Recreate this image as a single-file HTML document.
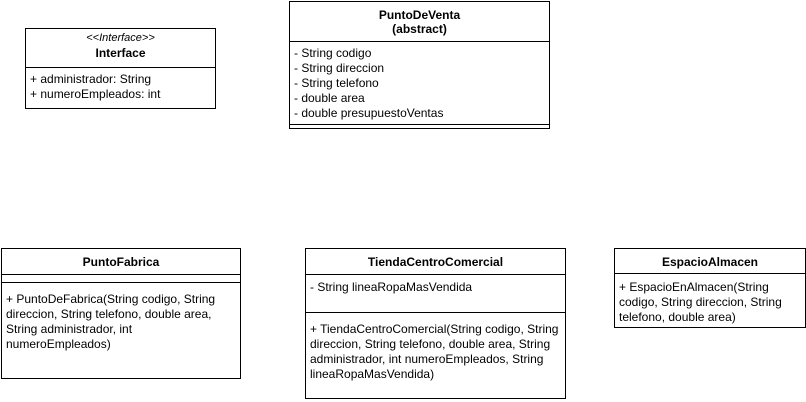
<!DOCTYPE html>
<html><head><meta charset="utf-8"><style>
body{margin:0;width:806px;height:402px;background:#fff;position:relative;font-family:"Liberation Sans",Arial,sans-serif;font-size:12px;color:#000;overflow:hidden}
.b{position:absolute;border:1px solid #000;box-sizing:border-box;background:#fff}
.h{position:absolute;left:0;right:0;height:0;border-top:1px solid #000}
.t{position:absolute;left:4px;line-height:15px;white-space:nowrap}
.c{position:absolute;left:0;right:0;text-align:center;font-weight:bold;line-height:14px}
.w{position:absolute;left:4px;line-height:15px;white-space:nowrap}
</style></head><body>

<div class="b" style="left:25px;top:28px;width:191px;height:81px">
  <div class="c" style="top:2px;font-weight:normal;font-style:italic;font-size:11px">&lt;&lt;Interface&gt;&gt;</div>
  <div class="c" style="top:17px">Interface</div>
  <div class="h" style="top:38px"></div>
  <div class="t" style="top:43px">+ administrador: String</div>
  <div class="t" style="top:58px">+ numeroEmpleados: int</div>
</div>

<div class="b" style="left:289px;top:1px;width:261px;height:128px">
  <div class="c" style="top:6px">PuntoDeVenta<br>(abstract)</div>
  <div class="h" style="top:39px"></div>
  <div class="t" style="top:44px">- String codigo</div>
  <div class="t" style="top:59px">- String direccion</div>
  <div class="t" style="top:74px">- String telefono</div>
  <div class="t" style="top:89px">- double area</div>
  <div class="t" style="top:104px">- double presupuestoVentas</div>
  <div class="h" style="top:122px"></div>
</div>

<div class="b" style="left:1px;top:248px;width:240px;height:131px">
  <div class="c" style="top:6px">PuntoFabrica</div>
  <div class="h" style="top:25px"></div>
  <div class="h" style="top:33px"></div>
  <div class="w" style="top:43px">+ PuntoDeFabrica(String codigo, String<br>direccion, String telefono, double area,<br>String administrador, int<br>numeroEmpleados)</div>
</div>

<div class="b" style="left:305px;top:248px;width:261px;height:151px">
  <div class="c" style="top:6px">TiendaCentroComercial</div>
  <div class="h" style="top:25px"></div>
  <div class="t" style="top:31px">- String lineaRopaMasVendida</div>
  <div class="h" style="top:63px"></div>
  <div class="w" style="top:73px">+ TiendaCentroComercial(String codigo, String<br>direccion, String telefono, double area, String<br>administrador, int numeroEmpleados, String<br>lineaRopaMasVendida)</div>
</div>

<div class="b" style="left:614px;top:248px;width:192px;height:80px">
  <div class="c" style="top:6px">EspacioAlmacen</div>
  <div class="h" style="top:24px"></div>
  <div class="w" style="top:31px">+ EspacioEnAlmacen(String<br>codigo, String direccion, String<br>telefono, double area)</div>
</div>

</body></html>
